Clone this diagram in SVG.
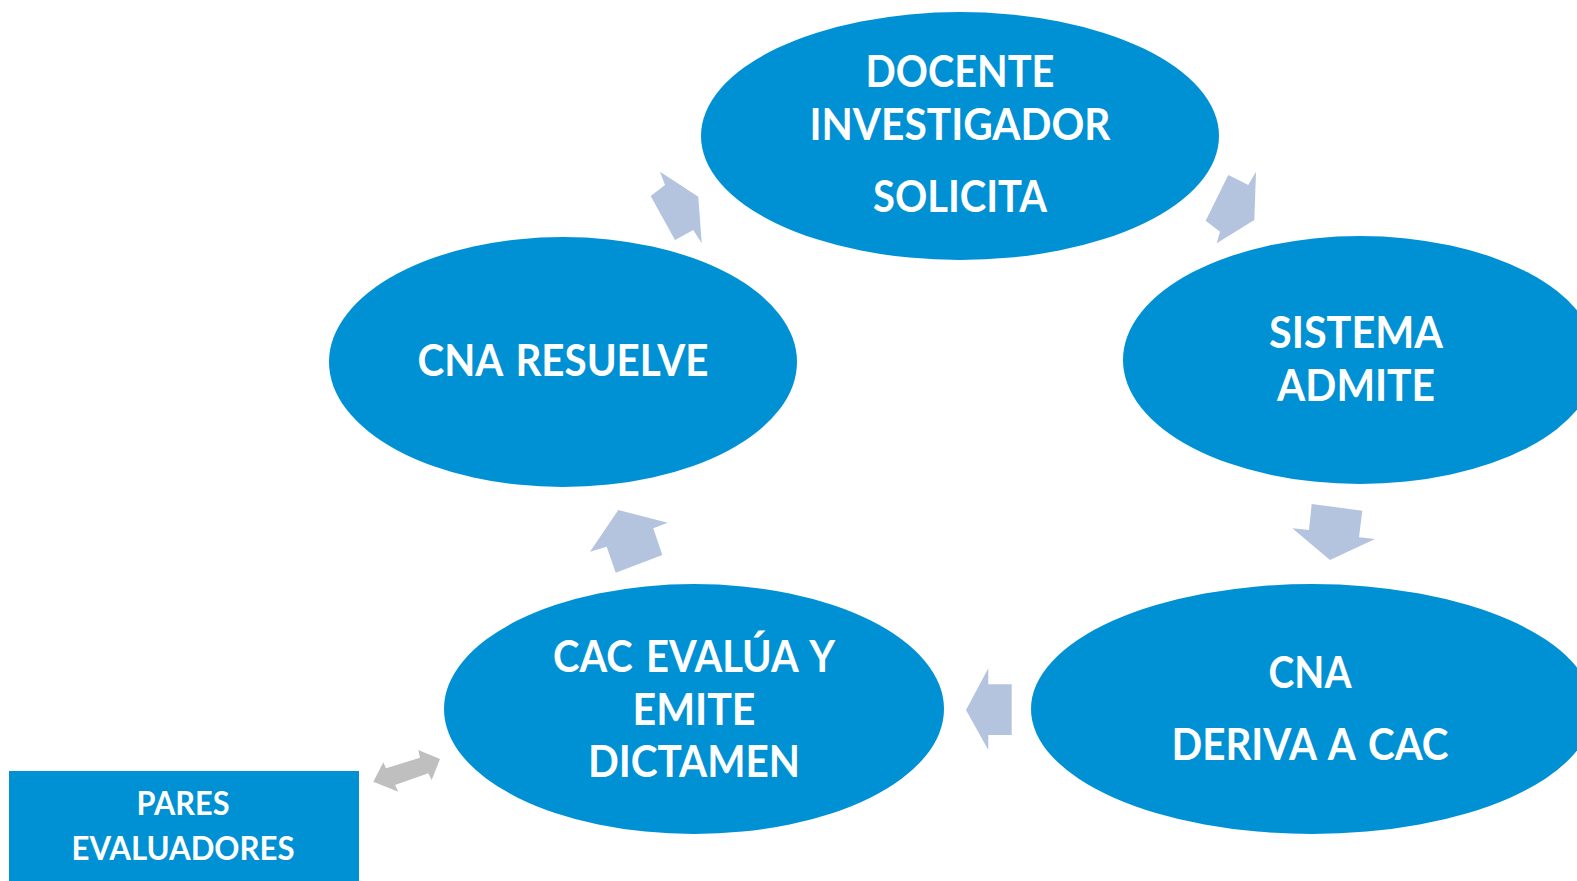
<svg xmlns="http://www.w3.org/2000/svg" width="1577" height="881" viewBox="0 0 1577 881">
<style>
.node{fill:#0091D5;}
.t{fill:#FFFFFF;font-family:Lato,"Open Sans","Liberation Sans",sans-serif;font-weight:bold;font-size:44px;text-anchor:middle;word-spacing:4px;}
.ts{font-size:32px;}
.arr{fill:#B4C3DE;}
.garr{fill:#BFBFBF;}
</style>
<rect x="0" y="0" width="1577" height="881" fill="#FFFFFF"/>
<g id="connectors">
<polygon class="arr" points="660,171.7 698.3,196.7 701.7,243.3 693.3,230 675,240 650.7,196 665,185"/>
<polygon class="arr" points="1228.3,175 1248.3,185 1256,171.7 1254.3,220 1216.7,243.3 1220,231.7 1205.7,220.7"/>
<polygon class="arr" points="1311.7,504 1362.3,510.7 1359,537.3 1375,539 1330,560 1292.3,528.3 1309,530"/>
<polygon class="arr" points="1011.7,684.3 988.3,684.3 988.3,668.3 966,710 988.3,750 988.3,735 1011.7,735"/>
<polygon class="arr" points="618.3,510 667.7,522.7 653.3,528.3 662.3,555 615.7,572.7 606.7,546.7 590,551.7"/>
<polygon class="garr" points="373.3,781.7 383.3,762.3 386,768.3 420,757.7 418.3,750 440,759 431.7,780 428.3,773.3 395,785 398.3,791.7"/>
</g>
<g id="docente">
<ellipse class="node" cx="960" cy="136" rx="259" ry="124"/>
<text class="t" x="960" y="87" textLength="189" lengthAdjust="spacingAndGlyphs">DOCENTE</text>
<text class="t" x="960" y="140" textLength="301" lengthAdjust="spacingAndGlyphs">INVESTIGADOR</text>
<text class="t" x="960" y="212" textLength="174" lengthAdjust="spacingAndGlyphs">SOLICITA</text>
</g>
<g id="sistema">
<ellipse class="node" cx="1360" cy="360" rx="237" ry="124"/>
<text class="t" x="1356" y="348" textLength="174" lengthAdjust="spacingAndGlyphs">SISTEMA</text>
<text class="t" x="1356" y="401" textLength="158" lengthAdjust="spacingAndGlyphs">ADMITE</text>
</g>
<g id="cna-deriva">
<ellipse class="node" cx="1312" cy="709" rx="281" ry="125"/>
<text class="t" x="1310" y="688" textLength="83" lengthAdjust="spacingAndGlyphs">CNA</text>
<text class="t" x="1310" y="760" textLength="277" lengthAdjust="spacingAndGlyphs">DERIVA A CAC</text>
</g>
<g id="cac">
<ellipse class="node" cx="694" cy="709" rx="250" ry="125"/>
<text class="t" x="694" y="672" textLength="282" lengthAdjust="spacingAndGlyphs">CAC EVALÚA Y</text>
<text class="t" x="694" y="725" textLength="123" lengthAdjust="spacingAndGlyphs">EMITE</text>
<text class="t" x="694" y="777" textLength="212" lengthAdjust="spacingAndGlyphs">DICTAMEN</text>
</g>
<g id="cna-resuelve">
<ellipse class="node" cx="563" cy="362" rx="234" ry="125"/>
<text class="t" x="563" y="376" textLength="291" lengthAdjust="spacingAndGlyphs">CNA RESUELVE</text>
</g>
<g id="pares">
<rect class="node" x="9" y="771" width="350" height="110"/>
<text class="t ts" x="183" y="815" textLength="93" lengthAdjust="spacingAndGlyphs">PARES</text>
<text class="t ts" x="183" y="860" textLength="223" lengthAdjust="spacingAndGlyphs">EVALUADORES</text>
</g>
</svg>
